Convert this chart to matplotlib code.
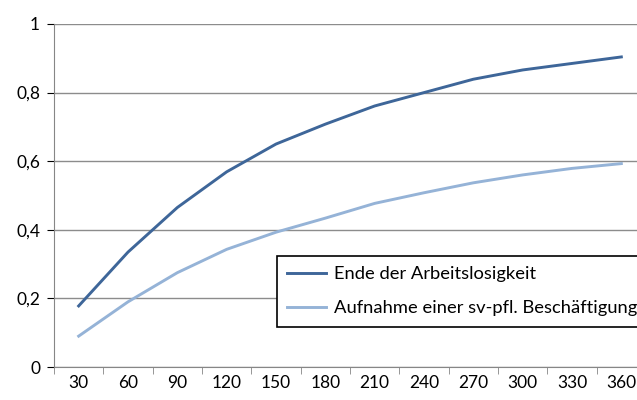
import matplotlib
matplotlib.use("Agg")
from matplotlib import pyplot as plt

plt.rcParams['font.family'] = ['Lato', 'DejaVu Sans']

days = [30, 60, 90, 120, 150, 180, 210, 240, 270, 300, 330, 360]
ende = [0.178, 0.335, 0.465, 0.569, 0.650, 0.708, 0.761, 0.800, 0.839, 0.866, 0.885, 0.904]
aufnahme = [0.090, 0.190, 0.275, 0.343, 0.393, 0.434, 0.477, 0.508, 0.537, 0.560, 0.579, 0.593]
labels = ["Ende der Arbeitslosigkeit", "Aufnahme einer sv-pfl. Beschäftigung"]

W, H = 637, 400
fig = plt.figure(figsize=(W / 100, H / 100), dpi=100)
# plot area runs past the right edge, as in the cropped reference
ax = fig.add_axes([54 / W, 1 - 367 / H, (646 - 54) / W, (367 - 24) / H])

x = list(range(len(days)))
ax.plot(x, ende, color="#3E6699", lw=2.1, label=labels[0])
ax.plot(x, aufnahme, color="#95B3D7", lw=2.1, label=labels[1])

ax.set_xlim(-0.5, len(days) - 0.5)
ax.set_ylim(0, 1)
ax.set_yticks([0, 0.2, 0.4, 0.6, 0.8, 1.0])
ax.set_yticklabels(["0", "0,2", "0,4", "0,6", "0,8", "1"])
ax.set_xticks(x)
ax.set_xticklabels([str(d) for d in days])
ax.set_xticks([i - 0.5 for i in range(len(days) + 1)], minor=True)
ax.tick_params(axis="x", which="major", length=0, pad=6)
ax.tick_params(axis="x", which="minor", length=5, color="#868686", direction="out")
ax.tick_params(axis="y", length=5, color="#868686", pad=5)
ax.tick_params(labelsize=12.5, colors="black")

ax.grid(axis="y", color="#8C8C8C", lw=1)
ax.set_axisbelow(True)
for s in ["top", "right"]:
    ax.spines[s].set_visible(False)
ax.spines["left"].set_color("#868686")
ax.spines["bottom"].set_color("#868686")

leg = ax.legend(loc="upper left", bbox_to_anchor=(277 / W, 1 - 256 / H),
                bbox_transform=fig.transFigure, fontsize=13.2, frameon=True,
                fancybox=False, framealpha=1, edgecolor="black",
                handlelength=2.1, handletextpad=0.45, labelspacing=1.0,
                borderpad=0.55, borderaxespad=0)
leg.get_frame().set_linewidth(1.2)

plt.savefig("out.png", dpi=100)
